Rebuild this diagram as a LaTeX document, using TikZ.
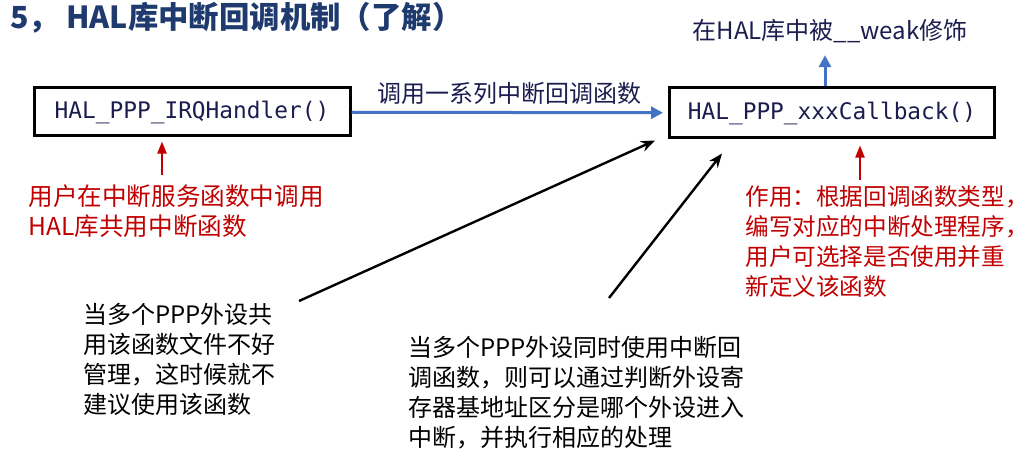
\documentclass[tikz,border=0pt]{standalone}
\usepackage{fontspec}
\setmainfont{Noto Sans CJK SC}
\newfontfamily\monofont{DejaVu Sans Mono}
\usetikzlibrary{arrows.meta,positioning,calc}
\definecolor{TitleBlue}{HTML}{1F3A6E}
\definecolor{CodeNavy}{HTML}{1C1C4E}
\definecolor{ArrowBlue}{HTML}{4472C4}
\definecolor{NoteRed}{HTML}{C00000}
\newcommand{\fn}[1]{{\monofont #1}}

\begin{document}
\begin{tikzpicture}[
  x=0.5pt,y=-0.5pt,
  font=\fontsize{12}{15}\selectfont,
  fbox/.style={draw=black,line width=1.5pt,inner sep=0pt,
               text=CodeNavy,font=\monofont\fontsize{11.4}{14}\selectfont},
  note/.style={anchor=north west,align=left,inner sep=0pt},
  rednote/.style={note,text=NoteRed,font=\fontsize{12.3}{15}\selectfont},
  bl/.style={-{Triangle[length=6pt,width=6pt]},line width=1.5pt,ArrowBlue},
  rd/.style={-{Triangle[length=6pt,width=4.5pt]},line width=1pt,NoteRed},
  bk/.style={-{Stealth[length=7pt,width=5.5pt]},line width=1.2pt,black}
]
\useasboundingbox (0,0) rectangle (1033,460);
\node[anchor=west,inner sep=0pt,text=TitleBlue,font=\bfseries\fontsize{15.2}{18}\selectfont]
  (title) at (10,18) {5，\ HAL库中断回调机制（了解）};
\node[fbox,minimum width=158pt,minimum height=24pt] (irq) at (192,112) {HAL\_PPP\_IRQHandler()};
\node[fbox,minimum width=162.5pt,minimum height=25pt] (cb) at (832,113) {HAL\_PPP\_xxxCallback()};
\draw[bl,shorten >=2.5pt] (irq) -- node[above=3pt,inner sep=0pt,text=CodeNavy]{调用一系列中断回调函数} (cb);
\node[inner sep=0pt,text=CodeNavy] (weak) at (830,31) {在HAL库中被\_\_weak修饰};
\draw[bl,shorten >=6pt] ([xshift=-3.5pt]cb.north) -- ([xshift=-3.5pt]cb.north |- weak.south);
% red notes
\node[rednote] (usr) at (28,184) {用户在中断服务函数中调用\\HAL库共用中断函数};
\coordinate (usrtip) at (162,175);
\draw[rd,shorten >=2pt] (usrtip) -- (usrtip |- irq.south);
\node[rednote,font=\fontsize{11.8}{15}\selectfont] (use) at (745,185) {作用：根据回调函数类型，\\编写对应的中断处理程序，\\用户可选择是否使用并重\\新定义该函数};
\coordinate (usetip) at (860,180);
\draw[rd,shorten >=3pt] (usetip) -- (usetip |- cb.south);
% black notes
\node[note] (shr) at (83,303) {当多个PPP外设共\\用该函数文件不好\\管理，这时候就不\\建议使用该函数};
\node[note] (mul) at (408,336) {当多个PPP外设同时使用中断回\\调函数，则可以通过判断外设寄\\存器基地址区分是哪个外设进入\\中断，并执行相应的处理};
\coordinate (shrtip) at (299,301);
\coordinate (multip) at (609,298);
\draw[bk] (shrtip) -- ($(cb.south west)+(-13,1)$);
\draw[bk] (multip) -- ($(cb.south west)+(54,14)$);
\end{tikzpicture}
\end{document}
